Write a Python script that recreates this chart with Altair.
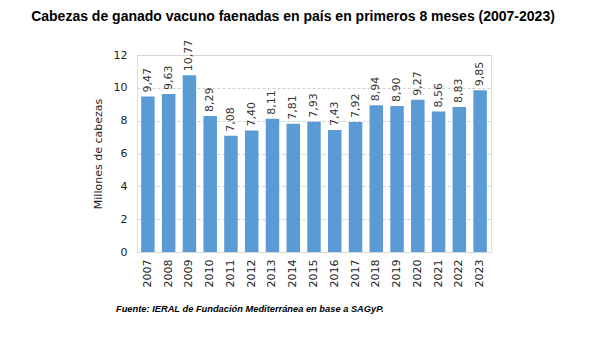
import altair as alt
import pandas as pd

years = [str(y) for y in range(2007, 2024)]
values = [9.47, 9.63, 10.77, 8.29, 7.08, 7.40, 8.11, 7.81, 7.93, 7.43, 7.92, 8.94, 8.90, 9.27, 8.56, 8.83, 9.85]
labels = [f"{v:.2f}".replace(".", ",") for v in values]

title_text = ["Cabezas de ganado vacuno faenadas en país en primeros 8 meses (2007-2023)"]
footer_text = ["Fuente: IERAL de Fundación Mediterránea en base a SAGyP."]

df = pd.DataFrame({"year": years, "value": values, "label": labels})

FONT = "DejaVu Sans"

x = alt.X("year:N", title=None, sort=years,
          scale=alt.Scale(paddingInner=0.35, paddingOuter=0.2),
          axis=alt.Axis(labelAngle=270, labelFont=FONT, labelFontSize=11, labelColor="#222222",
                        domainColor="#d9d9d9", ticks=False, labelPadding=7, labelBaseline="middle",
                        labelAlign="right"))
y = alt.Y("value:Q", title="Millones de cabezas",
          scale=alt.Scale(domain=[0, 12], nice=False),
          axis=alt.Axis(values=[0, 2, 4, 6, 8, 10, 12], tickCount=7, labelOverlap=False,
                        labelFont=FONT, labelFontSize=11,
                        labelColor="#222222", domain=False, ticks=False, labelPadding=10,
                        titleFont=FONT, titleFontSize=11, titleFontWeight="normal",
                        titleColor="#222222", titlePadding=10,
                        gridColor="#d0d0d0", gridDash=[3, 2]))

base = alt.Chart(df)
bars = base.mark_bar(color="#5B9BD5").encode(x=x, y=y)
text = base.mark_text(angle=270, align="left", baseline="middle", dx=4,
                      font=FONT, fontSize=11, color="#333333").encode(
    x=alt.X("year:N", sort=years), y="value:Q", text="label:N")

title = alt.Chart(pd.DataFrame({"t": title_text})).mark_text(
    font="Liberation Sans", fontWeight="bold", fontSize=14, color="#000000",
    align="center", baseline="middle").encode(
    text="t:N", x=alt.value(293 - 137), y=alt.value(17 - 55))

footer = alt.Chart(pd.DataFrame({"t": footer_text})).mark_text(
    font="Liberation Sans", fontWeight="bold", fontStyle="italic", fontSize=9.3, color="#000000",
    align="left", baseline="middle").encode(
    text="t:N", x=alt.value(116 - 137), y=alt.value(309 - 55))

chart = alt.layer(bars, text, title, footer).properties(
    width=354, height=197,
    autosize=alt.AutoSizeParams(type="none"),
    padding={"left": 137, "top": 55, "right": 112, "bottom": 85},
).configure_view(stroke=None).configure(background="white")

chart.save("out.html", embed_options={"renderer": "svg", "actions": False})
